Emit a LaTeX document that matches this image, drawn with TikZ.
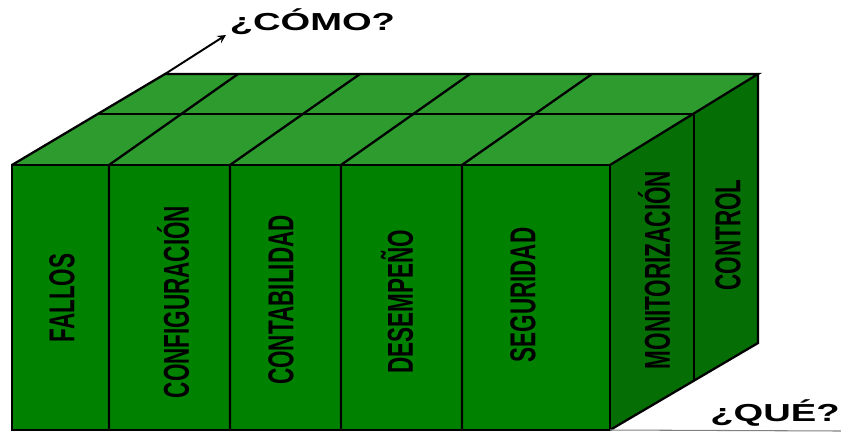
\documentclass[tikz,border=0pt]{standalone}
\usepackage{fontspec}
\setmainfont{Liberation Sans}
\definecolor{frente}{RGB}{0,130,0}
\definecolor{tapa}{RGB}{45,155,45}
\definecolor{lado}{RGB}{5,110,5}
\tikzset{
  etiqueta/.style={xscale=1.6, rotate=90, inner sep=0pt,
    font=\fontsize{12.8}{14}\selectfont\bfseries},
  eje/.style={xscale=1.55, inner sep=0pt,
    font=\fontsize{14}{16}\selectfont\bfseries}
}

\begin{document}
\begin{tikzpicture}[x=0.02cm, y=-0.02cm, line width=1.3pt]
  \useasboundingbox (0,0) rectangle (841,433);
  % caras del cubo
  \fill[frente] (12,165) rectangle (610,430);
  \fill[tapa] (12,165) -- (165,74) -- (758,74) -- (610,165) -- cycle;
  \fill[lado] (610,165) -- (758,74) -- (758,343) -- (610,430) -- cycle;
  \coordinate (atras) at (165,74);
  \coordinate (esquina) at (610,430);
  \draw (12,165) rectangle (610,430);
  \draw (12,165) -- (atras) -- (758,74) -- (610,165);
  \draw (758,74) -- (758,343) -- (esquina);
  \foreach \a/\b in {109/238, 230/360, 341/470, 462/592} {
    \draw (\a,430) -- (\a,165) -- (\b,74);
  }
  \draw (98,114) -- (694,114) -- (694,380);
  % ejes
  \node[eje, anchor=west] (como) at (228,22) {¿CÓMO?};
  \coordinate (punta) at (226,35);
  \draw[-stealth, line width=1.1pt] (atras) -- (punta);
  \node[eje] (que) at (775,413) {¿QUÉ?};
  \coordinate (fin) at (841,431);
  \draw[line width=0.6pt, gray] (esquina) -- (fin);
  % etiquetas
  \foreach \x/\y/\t/\n in {62/298/FALLOS/fallos, 173/302/CONFIGURACIÓN/config,
      281/300/CONTABILIDAD/contab, 397/302/DESEMPEÑO/desemp,
      523/295/SEGURIDAD/segur, 654/270/MONITORIZACIÓN/monit,
      728/235/CONTROL/control} {
    \node[etiqueta] (\n) at (\x,\y) {\t};
  }
\end{tikzpicture}
\end{document}
